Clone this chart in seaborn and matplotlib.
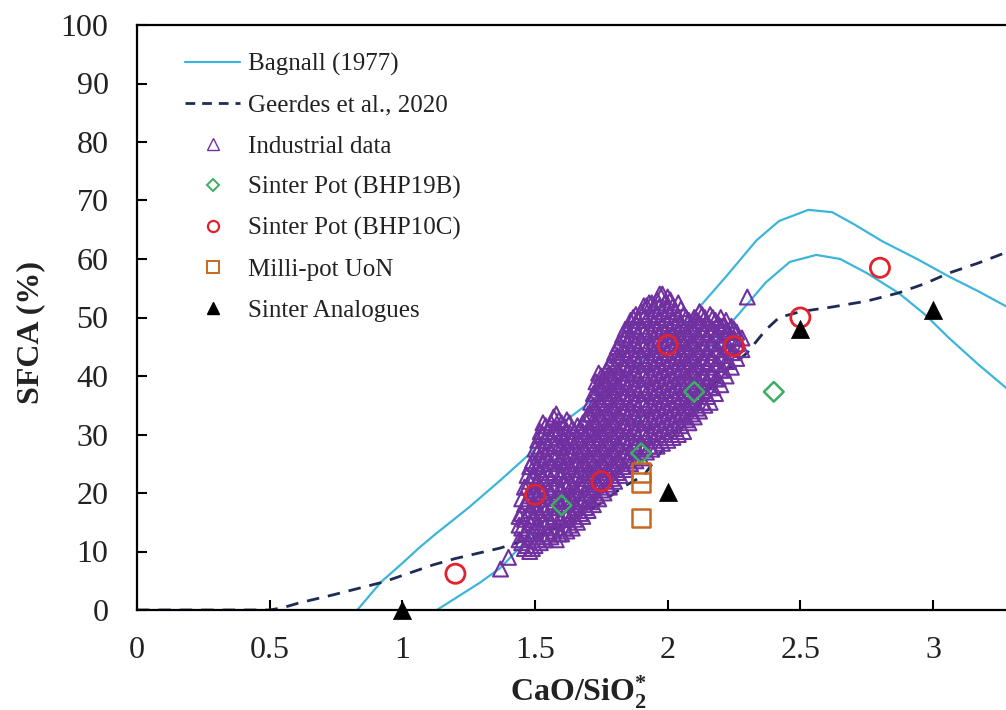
import matplotlib
matplotlib.use("Agg")
import matplotlib.pyplot as plt
from matplotlib.lines import Line2D
from matplotlib.ticker import FuncFormatter
import seaborn as sns

# ---------------- data ----------------
bagnall_upper_x = [0.83, 0.92, 1.00, 1.06, 1.12, 1.25, 1.37, 1.50, 1.59, 1.75, 1.90, 2.00, 2.12, 2.22, 2.335, 2.42, 2.53, 2.62, 2.70, 2.81, 2.94, 3.06, 3.17, 3.28]
bagnall_upper_y = [0.0, 4.8, 8.0, 10.5, 12.8, 17.5, 22.2, 27.5, 31.5, 37.0, 42.5, 46.5, 51.8, 57.0, 63.2, 66.5, 68.4, 68.0, 66.0, 63.0, 60.0, 57.0, 54.5, 51.8]
bagnall_lower_x = [1.13, 1.21, 1.29, 1.37, 1.50, 1.75, 2.00, 2.15, 2.27, 2.37, 2.46, 2.56, 2.65, 2.75, 2.87, 2.97, 3.06, 3.17, 3.28]
bagnall_lower_y = [0.0, 2.3, 4.6, 7.2, 13.5, 25.5, 37.5, 44.5, 50.7, 56.0, 59.5, 60.7, 60.0, 57.6, 54.2, 50.5, 46.5, 42.0, 37.8]
geerdes_x = [0.0, 0.50, 0.55, 0.61, 0.74, 0.93, 1.115, 1.20, 1.37, 1.50, 1.60, 1.74, 1.83, 1.91, 1.95, 2.00, 2.10, 2.20, 2.30, 2.37, 2.42, 2.50, 2.62, 2.75, 2.87, 2.97, 3.06, 3.17, 3.28]
geerdes_y = [0.0, 0.0, 0.4, 1.2, 2.6, 4.8, 7.7, 8.8, 10.6, 12.5, 14.5, 18.0, 21.0, 23.0, 25.5, 28.5, 34.5, 40.0, 44.0, 47.9, 50.0, 51.0, 51.8, 52.8, 54.2, 55.8, 57.6, 59.3, 61.2]

bhp19b_x = [1.60, 1.90, 2.10, 2.40]
bhp19b_y = [17.9, 26.8, 37.3, 37.3]
bhp10c_x = [1.20, 1.50, 1.75, 2.00, 2.25, 2.50, 2.80]
bhp10c_y = [6.2, 19.7, 22.0, 45.3, 45.1, 50.0, 58.5]
millipot_x = [1.90, 1.90, 1.90]
millipot_y = [23.5, 21.8, 15.8]
analogue_x = [1.00, 2.00, 2.50, 3.00]
analogue_y = [0.0, 20.2, 48.0, 51.2]

# industrial data: CaO/SiO2 -> SFCA values read from the cloud
industrial = {
    1.37: [7],
    1.40: [9],
    1.44: [12, 14.5, 16],
    1.45: [11.5, 14, 16.5, 19],
    1.46: [10.5, 13, 15.5, 18, 21],
    1.47: [11, 13.5, 16, 18.5, 21, 23],
    1.48: [10, 12.5, 15, 17, 19.5, 22, 24.5],
    1.49: [10.5, 13, 15.5, 18, 20.5, 23, 25.5],
    1.50: [11, 13.5, 16, 18, 20.5, 23, 25, 27.5],
    1.51: [12, 14.5, 17, 19.5, 22, 24.5, 27, 29],
    1.52: [11.5, 14, 16.5, 19, 21, 23.5, 26, 28, 30.5],
    1.53: [12.5, 15, 17.5, 20, 22.5, 25, 27.5, 30, 32],
    1.54: [12, 14.5, 17, 19.5, 22, 24, 26.5, 29, 31.5],
    1.55: [13, 15.5, 18, 20.5, 23, 25.5, 28, 30.5],
    1.56: [12.5, 15, 17.5, 20, 22.5, 25, 27, 29.5, 32],
    1.57: [13.5, 16, 18.5, 21, 23.5, 26, 28.5, 31, 33],
    1.58: [12, 14, 16.5, 19, 21.5, 24, 26, 28.5, 31, 33.5],
    1.59: [13, 15.5, 18, 20.5, 23, 25.5, 28, 30.5, 32.5],
    1.60: [13, 15.5, 18, 20.5, 23, 25.5, 28, 30, 32],
    1.61: [14, 16.5, 19, 21.5, 24, 26.5, 29, 31.5],
    1.62: [13.5, 16, 18.5, 21, 23, 25.5, 28, 30.5, 32.5],
    1.63: [14.5, 17, 19.5, 22, 24.5, 27, 29.5, 32],
    1.64: [14, 16.5, 19, 21.5, 24, 26.5, 29, 31],
    1.65: [15.5, 18, 20.5, 23, 25.5, 28, 30.5],
    1.66: [15, 17.5, 20, 22.5, 25, 27, 29.5, 31.5],
    1.67: [16.5, 19, 21.5, 24, 26.5, 29, 31],
    1.68: [16, 18.5, 21, 23, 25.5, 28, 30.5, 32],
    1.69: [17.5, 20, 22.5, 25, 27.5, 30, 32.5],
    1.70: [17, 19, 21.5, 24, 26.5, 29, 31, 33.5],
    1.71: [18.5, 21, 23.5, 26, 28.5, 31, 33.5, 35.5],
    1.72: [18, 20.5, 23, 25, 27.5, 30, 32.5, 35, 37],
    1.73: [19.5, 22, 24.5, 27, 29.5, 32, 34.5, 37, 39],
    1.74: [19, 21.5, 24, 26.5, 29, 31, 33.5, 36, 38.5, 40.5],
    1.75: [20.5, 23, 25.5, 28, 30.5, 33, 35.5, 38, 40],
    1.76: [20, 22.5, 25, 27.5, 30, 32, 34.5, 37, 39.5],
    1.77: [21.5, 24, 26.5, 29, 31.5, 34, 36.5, 39, 41],
    1.78: [21, 23.5, 26, 28.5, 31, 33.5, 36, 38, 40.5, 42],
    1.79: [22.5, 25, 27.5, 30, 32.5, 35, 37.5, 40, 42.5],
    1.80: [22, 24.5, 27, 29.5, 32, 34.5, 37, 39, 41.5, 44],
    1.81: [23.5, 26, 28.5, 31, 33.5, 36, 38.5, 41, 43.5, 45],
    1.82: [23, 25.5, 28, 30.5, 33, 35.5, 38, 40.5, 43, 45.5],
    1.83: [24.5, 27, 29.5, 32, 34.5, 37, 39.5, 42, 44.5, 47],
    1.84: [24, 26.5, 29, 31.5, 34, 36.5, 39, 41.5, 44, 46.5, 48],
    1.85: [25.5, 28, 30.5, 33, 35.5, 38, 40.5, 43, 45.5, 48],
    1.86: [25, 27, 29.5, 32, 34.5, 37, 39.5, 42, 44.5, 47, 49.5],
    1.87: [26, 28.5, 31, 33.5, 36, 38.5, 41, 43.5, 46, 48.5, 50],
    1.88: [25.5, 28, 30.5, 33, 35.5, 38, 40.5, 43, 45.5, 48, 50.5],
    1.89: [27, 29.5, 32, 34.5, 37, 39.5, 42, 44.5, 47, 49.5],
    1.90: [26, 28.5, 31, 33.5, 36, 38.5, 41, 43.5, 46, 48.5, 51],
    1.91: [27.5, 30, 32.5, 35, 37.5, 40, 42.5, 45, 47.5, 50, 52],
    1.92: [27, 29.5, 32, 34.5, 37, 39.5, 42, 44.5, 47, 49.5, 52],
    1.93: [28, 30.5, 33, 35.5, 38, 40.5, 43, 45.5, 48, 50.5, 52.5],
    1.94: [27.5, 30, 32.5, 35, 37.5, 40, 42.5, 45, 47.5, 50, 52.5],
    1.95: [29, 31.5, 34, 36.5, 39, 41.5, 44, 46.5, 49, 51.5],
    1.96: [28, 30.5, 33, 35.5, 38, 40.5, 43, 45.5, 48, 50.5, 53],
    1.97: [29.5, 32, 34.5, 37, 39.5, 42, 44.5, 47, 49.5, 52, 54],
    1.98: [28.5, 31, 33.5, 36, 38.5, 41, 43.5, 46, 48.5, 51, 54],
    1.99: [30, 32.5, 35, 37.5, 40, 42.5, 45, 47.5, 50, 52.5],
    2.00: [29, 31.5, 34, 36.5, 39, 41.5, 44, 46.5, 49, 51.5, 53.5],
    2.01: [30.5, 33, 35.5, 38, 40.5, 43, 45.5, 48, 50.5, 53],
    2.02: [29.5, 32, 34.5, 37, 39.5, 42, 44.5, 47, 49.5, 52],
    2.03: [31, 33.5, 36, 38.5, 41, 43.5, 46, 48.5, 51],
    2.04: [30, 32.5, 35, 37.5, 40, 42.5, 45, 47.5, 50, 52.5],
    2.05: [31.5, 34, 36.5, 39, 41.5, 44, 46.5, 49, 51.5],
    2.06: [30.5, 33, 35.5, 38, 40.5, 43, 45.5, 48, 50.5],
    2.07: [32.5, 35, 37.5, 40, 42.5, 45, 47.5, 50],
    2.08: [32, 34.5, 37, 39.5, 42, 44.5, 47, 49.5],
    2.09: [33.5, 36, 38.5, 41, 43.5, 46, 48.5],
    2.10: [33, 35.5, 38, 40.5, 43, 45.5, 48, 50],
    2.11: [34.5, 37, 39.5, 42, 44.5, 47, 49.5],
    2.12: [34, 36.5, 39, 41.5, 44, 46.5, 49, 51],
    2.13: [35.5, 38, 40.5, 43, 45.5, 48, 50.5],
    2.14: [35, 37.5, 40, 42.5, 45, 47.5, 50],
    2.15: [36.5, 39, 41.5, 44, 46.5, 49],
    2.16: [35.5, 38, 40.5, 43, 45.5, 48, 50.5],
    2.17: [38, 40.5, 43, 45.5, 48, 50],
    2.18: [37, 39.5, 42, 44.5, 47, 49.5],
    2.19: [39.5, 42, 44.5, 47, 49],
    2.20: [38.5, 41, 43.5, 46, 48.5, 50],
    2.21: [41, 43.5, 46, 48.5],
    2.22: [40, 42.5, 45, 47.5, 49.5],
    2.23: [42.5, 45, 47.5],
    2.24: [41.5, 44, 46.5, 48.5],
    2.25: [44, 46.5, 48],
    2.26: [43, 45.5, 47.5],
    2.28: [44.5, 46.5],
    2.30: [53.5],
}

x_ticks = [0, 0.5, 1, 1.5, 2, 2.5, 3]
y_ticks = [0, 10, 20, 30, 40, 50, 60, 70, 80, 90, 100]
legend_labels = ["Bagnall (1977)", "Geerdes et al., 2020", "Industrial data",
                 "Sinter Pot (BHP19B)", "Sinter Pot (BHP10C)", "Milli-pot UoN",
                 "Sinter Analogues"]

ind_x = [k for k, vals in industrial.items() for _ in vals]
ind_y = [v for vals in industrial.values() for v in vals]

# ---------------- style ----------------
sns.set_theme(style="ticks")
plt.rcParams["font.family"] = ["Liberation Serif", "DejaVu Serif"]
plt.rcParams["mathtext.fontset"] = "custom"
plt.rcParams["mathtext.rm"] = "Liberation Serif"
plt.rcParams["mathtext.bf"] = "Liberation Serif:bold"
plt.rcParams["mathtext.it"] = "Liberation Serif:italic"

CYAN = "#3DB5DA"
NAVY = "#1E2B55"
PURPLE = "#7030A0"
GREEN = "#3AAE62"
RED = "#E2222E"
ORANGE = "#C9671F"
TEXT = "#222222"

fig = plt.figure(figsize=(10.06, 7.10), dpi=100)
ax = fig.add_axes([137 / 1006, 100 / 710, 1 - 137 / 1006, 585 / 710])

sns.lineplot(x=bagnall_upper_x, y=bagnall_upper_y, sort=False, estimator=None,
             color=CYAN, linewidth=1.6, ax=ax, zorder=2)
sns.lineplot(x=bagnall_lower_x, y=bagnall_lower_y, sort=False, estimator=None,
             color=CYAN, linewidth=1.6, ax=ax, zorder=2)
sns.lineplot(x=geerdes_x, y=geerdes_y, sort=False, estimator=None,
             color=NAVY, linewidth=2.0, linestyle=(0, (4.5, 3.2)), ax=ax, zorder=2)

sns.scatterplot(x=ind_x, y=ind_y, marker="^", s=115, facecolors="none",
                edgecolor=PURPLE, linewidth=1.5, ax=ax, zorder=3)
sns.scatterplot(x=bhp19b_x, y=bhp19b_y, marker="D", s=100, facecolors="none",
                edgecolor=GREEN, linewidth=1.8, ax=ax, zorder=4)
sns.scatterplot(x=bhp10c_x, y=bhp10c_y, marker="o", s=190, facecolors="none",
                edgecolor=RED, linewidth=2.0, ax=ax, zorder=5)
sns.scatterplot(x=millipot_x, y=millipot_y, marker="s", s=170, facecolors="none",
                edgecolor=ORANGE, linewidth=1.8, ax=ax, zorder=5)
sns.scatterplot(x=analogue_x, y=analogue_y, marker="^", s=170, color="black",
                edgecolor="black", linewidth=0.5, ax=ax, zorder=6, clip_on=False)

ax.set_xlim(0, 3.275)
ax.set_ylim(0, 100)
ax.set_xticks(x_ticks)
ax.set_yticks(y_ticks)
ax.xaxis.set_major_formatter(FuncFormatter(lambda v, p: f"{v:g}"))
ax.tick_params(axis="both", direction="in", length=7, width=1.5, labelsize=23,
               colors="black", labelcolor=TEXT)
ax.tick_params(axis="y", pad=20.5)
ax.tick_params(axis="x", pad=19)
for side in ["left", "bottom", "top"]:
    ax.spines[side].set_linewidth(1.6)
    ax.spines[side].set_color("black")
ax.spines["right"].set_visible(False)

ax.set_ylabel("SFCA (%)", fontsize=23, fontweight="bold", color=TEXT)
ax.yaxis.set_label_coords(-0.106, 0.475)
ax.set_xlabel(r"CaO/SiO$_{\mathbf{2}}^{\mathbf{*}}$", fontsize=23, fontweight="bold", color=TEXT)
ax.xaxis.set_label_coords(0.5075, -0.108)

handles = [
    Line2D([], [], color=CYAN, linewidth=1.6),
    Line2D([], [], color=NAVY, linewidth=2.0, linestyle=(0, (3.5, 2.5))),
    Line2D([], [], marker="^", linestyle="none", markersize=8, markerfacecolor="none",
           markeredgecolor=PURPLE, markeredgewidth=1.0),
    Line2D([], [], marker="D", linestyle="none", markersize=6, markerfacecolor="none",
           markeredgecolor=GREEN, markeredgewidth=1.4),
    Line2D([], [], marker="o", linestyle="none", markersize=8, markerfacecolor="none",
           markeredgecolor=RED, markeredgewidth=1.6),
    Line2D([], [], marker="s", linestyle="none", markersize=8, markerfacecolor="none",
           markeredgecolor=ORANGE, markeredgewidth=1.4),
    Line2D([], [], marker="^", linestyle="none", markersize=9, color="black"),
]
leg = ax.legend(handles, legend_labels, loc="upper left",
                bbox_to_anchor=(48 / 869, 1 - 28 / 585), frameon=False,
                fontsize=18, handlelength=2.2, handletextpad=0.3,
                labelspacing=0.73, borderpad=0, borderaxespad=0)
for t in leg.get_texts():
    t.set_color(TEXT)

fig.savefig("out.png", dpi=100)
